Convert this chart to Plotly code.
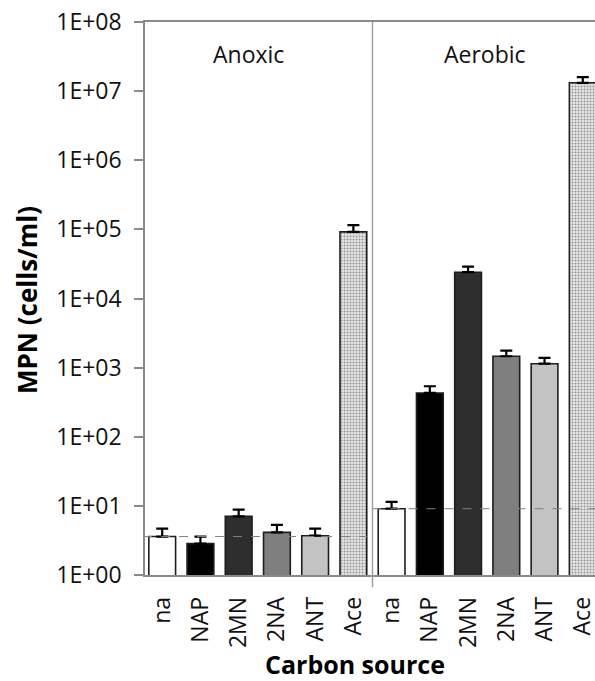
import plotly.graph_objects as go

categories = ["na", "NAP", "2MN", "2NA", "ANT", "Ace",
              "na", "NAP", "2MN", "2NA", "ANT", "Ace"]
groups = ["Anoxic", "Aerobic"]
mpn = [3.6, 2.84, 7.05, 4.14, 3.7, 9.2e4,
       9.1, 430, 2.4e4, 1.46e3, 1.14e3, 1.32e7]
err_upper = [1.1, 0.76, 1.75, 1.16, 1.0, 2.3e4,
             2.3, 108, 0.5e4, 0.3e3, 0.24e3, 0.27e7]
thresholds = [3.6, 9.1]
y_tickvals = [1, 10, 100, 1e3, 1e4, 1e5, 1e6, 1e7, 1e8]
y_ticktext = ["1E+00", "1E+01", "1E+02", "1E+03", "1E+04",
              "1E+05", "1E+06", "1E+07", "1E+08"]

fills = ["#ffffff", "#000000", "#2e2e2e", "#7f7f7f", "#c3c3c3", "#e6e6e6"] * 2
patterns = ["", "", "", "", "", "."] * 2

FONT = "Open Sans"
x = list(range(len(categories)))

W, H = 595, 681
ml, mr, mt, mb = 145, 0, 22, 106
pw, ph = W - ml - mr, H - mt - mb

fig = go.Figure()
fig.add_trace(go.Bar(
    x=x, y=mpn, width=0.70,
    marker=dict(color=fills, line=dict(color="#1e1e1e", width=1.6),
                pattern=dict(shape=patterns, fgcolor="#9a9a9a", bgcolor="#eeeeee",
                             size=3, solidity=0.35, fillmode="overlay")),
    error_y=dict(type="data", symmetric=False, array=err_upper,
                 arrayminus=[0] * len(mpn), color="#000000", thickness=2.2, width=6),
    showlegend=False,
))

# threshold dashed lines (one per group)
n = len(categories) // 2
for gi, th in enumerate(thresholds):
    x0 = -0.5 + gi * n
    x1 = x0 + n
    fig.add_trace(go.Scatter(x=[x0, x1], y=[th, th], mode="lines",
                             line=dict(color="#808080", width=1, dash="dash"),
                             showlegend=False, hoverinfo="skip"))

# group separator
fig.add_shape(type="line", xref="x", yref="paper", x0=n - 0.5, x1=n - 0.5,
              y0=-0.022, y1=1, line=dict(color="#a0a0a0", width=1.5))

# group labels
for g, gx in zip(groups, [2.27, 8.44]):
    fig.add_annotation(x=gx, y=7.53, xref="x", yref="y", text=g, showarrow=False,
                       font=dict(family=FONT, size=23, color="#111111"))

def px2paper(px, py):
    return (px - ml) / pw, 1 - (py - mt) / ph

ax_, ay_ = px2paper(27, 300)
fig.add_annotation(x=ax_, y=ay_, xref="paper", yref="paper", text="<b>MPN (cells/ml)</b>",
                   showarrow=False, textangle=-90, xanchor="center", yanchor="middle",
                   font=dict(family=FONT, size=26, color="#000000"))
bx_, by_ = px2paper(355, 664)
fig.add_annotation(x=bx_, y=by_, xref="paper", yref="paper", text="<b>Carbon source</b>",
                   showarrow=False, xanchor="center", yanchor="middle",
                   font=dict(family=FONT, size=25, color="#000000"))

fig.update_layout(
    width=W, height=H,
    margin=dict(l=ml, r=mr, t=mt, b=mb, autoexpand=False),
    paper_bgcolor="white", plot_bgcolor="white",
    font=dict(family=FONT, size=23, color="#111111"),
)
fig.update_xaxes(
    range=[-0.45, 11.32], tickvals=x, ticktext=categories, tickangle=-90,
    showline=True, linecolor="#8a8a8a", linewidth=1.5, mirror=True,
    ticks="", showgrid=False, zeroline=False, ticklabelstandoff=11,
    ticklabeloverflow="allow",
    tickfont=dict(family=FONT, size=23, color="#111111"),
)
fig.update_yaxes(
    type="log", range=[0, 8], tickvals=y_tickvals, ticktext=y_ticktext,
    showline=True, linecolor="#8a8a8a", linewidth=1.5,
    ticks="outside", ticklen=9, tickcolor="#8a8a8a", tickwidth=1.5,
    showgrid=False, zeroline=False, ticklabelstandoff=8,
    tickfont=dict(family=FONT, size=23, color="#111111"),
)

fig.write_html("out.html", config={"displayModeBar": False},
               post_script="document.body.style.margin='0';document.body.style.overflow='hidden';")
